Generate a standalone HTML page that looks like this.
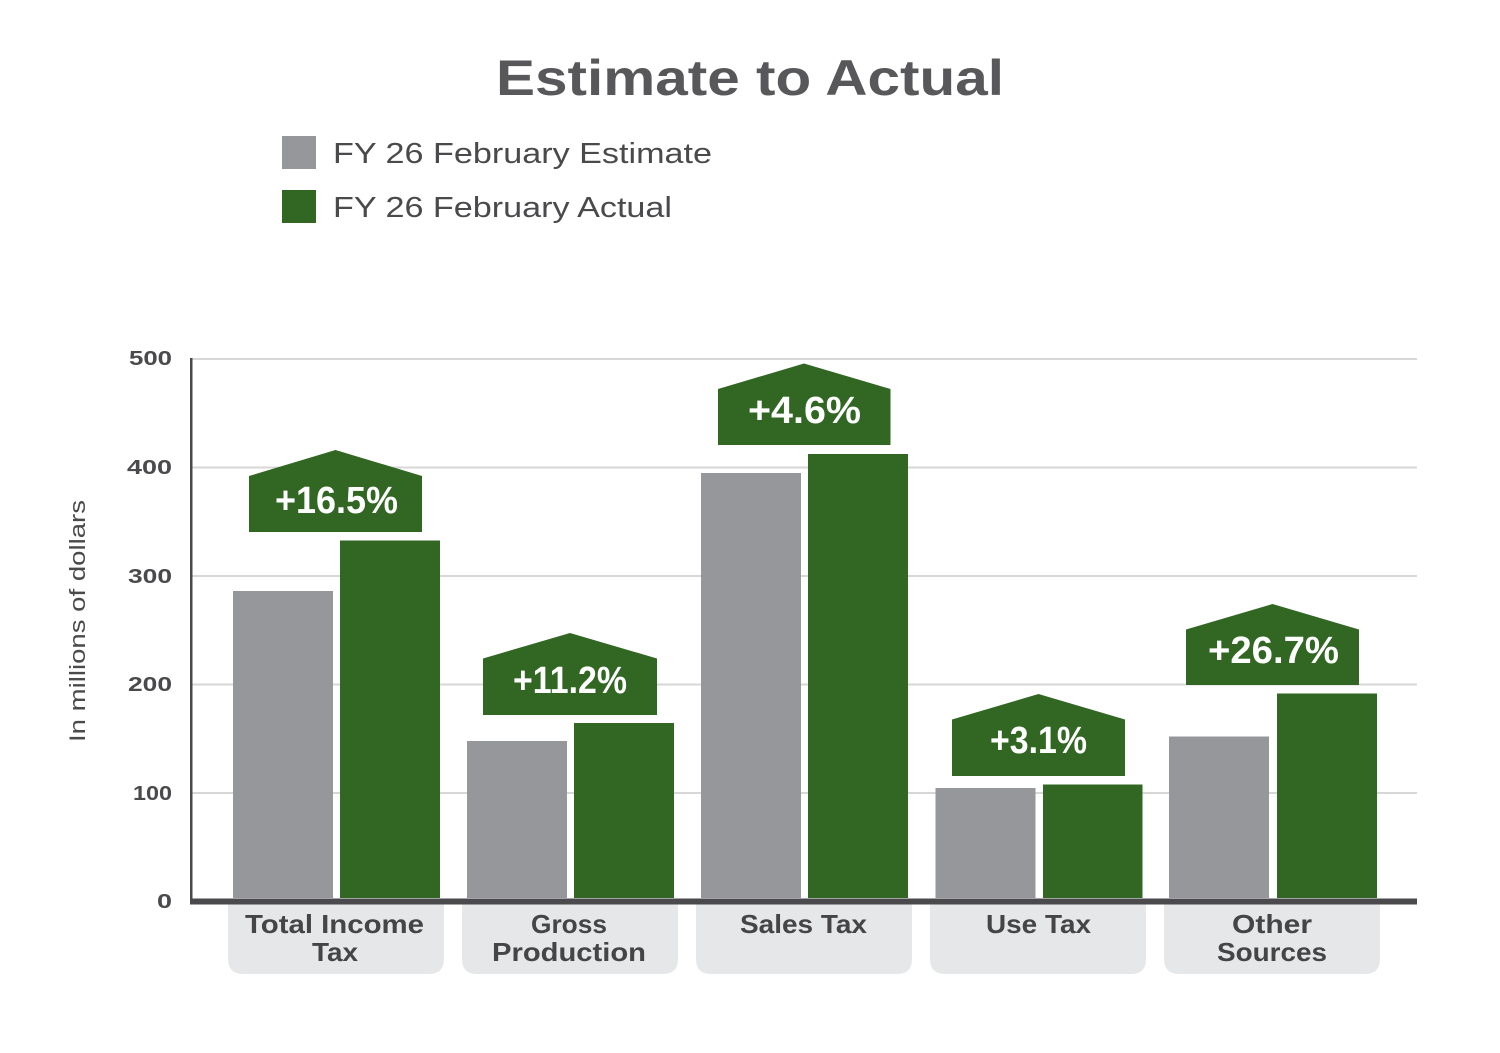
<!DOCTYPE html>
<html>
<head>
<meta charset="utf-8">
<style>
  html, body { margin: 0; padding: 0; background: #ffffff; }
  svg { display: block; }
  text { font-family: "Liberation Sans", sans-serif; }
</style>
</head>
<body>
<svg width="1500" height="1053" viewBox="0 0 1500 1053" xmlns="http://www.w3.org/2000/svg">
  <rect x="0" y="0" width="1500" height="1053" fill="#ffffff"/>

  <!-- Title -->
  <text x="750" y="95" text-anchor="middle" font-size="50" font-weight="bold" fill="#58585a" textLength="508" lengthAdjust="spacingAndGlyphs">Estimate to Actual</text>

  <!-- Legend -->
  <rect x="282" y="136" width="34" height="33" fill="#96979a"/>
  <text x="333" y="163" font-size="29" fill="#4a4a4c" textLength="379" lengthAdjust="spacingAndGlyphs">FY 26 February Estimate</text>
  <rect x="282" y="190" width="34" height="33" fill="#316722"/>
  <text x="333" y="217" font-size="29" fill="#4a4a4c" textLength="339" lengthAdjust="spacingAndGlyphs">FY 26 February Actual</text>

  <!-- Y axis label -->
  <text transform="translate(85,621) rotate(-90)" text-anchor="middle" font-size="22" fill="#4a4a4c" textLength="242" lengthAdjust="spacingAndGlyphs">In millions of dollars</text>

  <!-- Gridlines -->
  <g stroke="#d7d7d7" stroke-width="2">
    <line x1="191" y1="359" x2="1417" y2="359"/>
    <line x1="191" y1="467.5" x2="1417" y2="467.5"/>
    <line x1="191" y1="576" x2="1417" y2="576"/>
    <line x1="191" y1="684.5" x2="1417" y2="684.5"/>
    <line x1="191" y1="793" x2="1417" y2="793"/>
  </g>

  <!-- Tick labels -->
  <g font-size="20" font-weight="bold" fill="#4a4a4c" text-anchor="end">
    <text x="172" y="365" textLength="43" lengthAdjust="spacingAndGlyphs">500</text>
    <text x="172" y="474" textLength="45" lengthAdjust="spacingAndGlyphs">400</text>
    <text x="172" y="583" textLength="44" lengthAdjust="spacingAndGlyphs">300</text>
    <text x="172" y="691" textLength="44" lengthAdjust="spacingAndGlyphs">200</text>
    <text x="172" y="800" textLength="39" lengthAdjust="spacingAndGlyphs">100</text>
    <text x="172" y="908" textLength="15" lengthAdjust="spacingAndGlyphs">0</text>
  </g>

  <!-- Category label boxes -->
  <g fill="#e6e7e8">
    <path d="M228,899 H444 V959 Q444,974 429,974 H243 Q228,974 228,959 Z"/>
    <path d="M462,899 H678 V959 Q678,974 663,974 H477 Q462,974 462,959 Z"/>
    <path d="M696,899 H912 V959 Q912,974 897,974 H711 Q696,974 696,959 Z"/>
    <path d="M930,899 H1146 V959 Q1146,974 1131,974 H945 Q930,974 930,959 Z"/>
    <path d="M1164,899 H1380 V959 Q1380,974 1365,974 H1179 Q1164,974 1164,959 Z"/>
  </g>

  <!-- Category labels -->
  <g font-size="26" font-weight="bold" fill="#454547">
    <text x="245" y="933" textLength="179" lengthAdjust="spacingAndGlyphs">Total Income</text>
    <text x="312" y="961" textLength="46" lengthAdjust="spacingAndGlyphs">Tax</text>
    <text x="531" y="933" textLength="76" lengthAdjust="spacingAndGlyphs">Gross</text>
    <text x="492" y="961" textLength="154" lengthAdjust="spacingAndGlyphs">Production</text>
    <text x="740" y="933" textLength="127" lengthAdjust="spacingAndGlyphs">Sales Tax</text>
    <text x="986" y="933" textLength="105" lengthAdjust="spacingAndGlyphs">Use Tax</text>
    <text x="1232" y="933" textLength="80" lengthAdjust="spacingAndGlyphs">Other</text>
    <text x="1217" y="961" textLength="110" lengthAdjust="spacingAndGlyphs">Sources</text>
  </g>

  <!-- Bars -->
  <g fill="#96979a">
    <rect x="233" y="591" width="100" height="307"/>
    <rect x="467" y="741" width="100" height="157"/>
    <rect x="701" y="473" width="100" height="425"/>
    <rect x="935.5" y="788" width="100" height="110"/>
    <rect x="1169" y="736.5" width="100" height="161.5"/>
  </g>
  <g fill="#316722">
    <rect x="340" y="540.5" width="100" height="357.5"/>
    <rect x="574" y="723" width="100" height="175"/>
    <rect x="808" y="454" width="100" height="444"/>
    <rect x="1043" y="784.5" width="99.5" height="113.5"/>
    <rect x="1277" y="693.5" width="100" height="204.5"/>
  </g>

  <!-- Axes -->
  <rect x="190" y="358" width="2.5" height="546" fill="#4a4a4c"/>
  <rect x="190" y="898.5" width="1227" height="6" fill="#4a4a4c"/>

  <!-- Badges -->
  <g fill="#316722">
    <polygon points="249,476 335.5,450 422,476 422,532 249,532"/>
    <polygon points="483,658.5 570,633 657,658.5 657,715 483,715"/>
    <polygon points="718,389 804,363.5 890.5,389 890.5,445 718,445"/>
    <polygon points="952,719.5 1038.5,694 1125,719.5 1125,776 952,776"/>
    <polygon points="1186,629.5 1272.5,604 1359,629.5 1359,685 1186,685"/>
  </g>
  <g font-size="38" font-weight="bold" fill="#ffffff">
    <text x="275" y="513" textLength="123" lengthAdjust="spacingAndGlyphs">+16.5%</text>
    <text x="513" y="693" textLength="114" lengthAdjust="spacingAndGlyphs">+11.2%</text>
    <text x="748" y="423" textLength="113" lengthAdjust="spacingAndGlyphs">+4.6%</text>
    <text x="990" y="753" textLength="97" lengthAdjust="spacingAndGlyphs">+3.1%</text>
    <text x="1208" y="663" textLength="131" lengthAdjust="spacingAndGlyphs">+26.7%</text>
  </g>
</svg>
</body>
</html>
